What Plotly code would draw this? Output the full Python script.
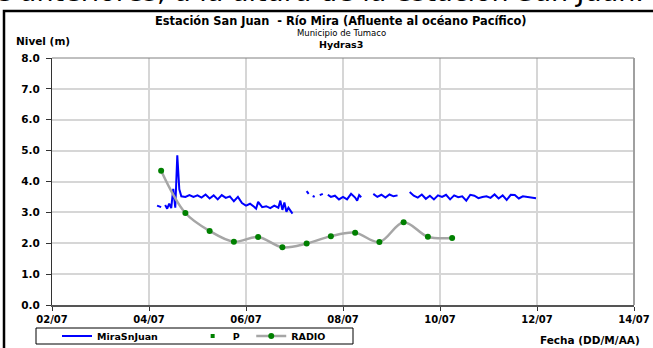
import plotly.graph_objects as go

# ---- data ----
mira_times = [
    "2008-07-04 04:00", "2008-07-04 06:00", "2008-07-04 07:00", "2008-07-04 08:00", "2008-07-04 09:00",
    "2008-07-04 10:00", "2008-07-04 11:00", "2008-07-04 12:00", "2008-07-04 13:00", "2008-07-04 14:00",
    "2008-07-04 15:00", "2008-07-04 16:00", "2008-07-04 18:00", "2008-07-04 20:00", "2008-07-04 22:00",
    "2008-07-05 00:00", "2008-07-05 02:00", "2008-07-05 04:00", "2008-07-05 06:00", "2008-07-05 08:00",
    "2008-07-05 10:00", "2008-07-05 12:00", "2008-07-05 14:00", "2008-07-05 16:00", "2008-07-05 18:00",
    "2008-07-05 20:00", "2008-07-05 22:00", "2008-07-06 00:00", "2008-07-06 02:00", "2008-07-06 04:00",
    "2008-07-06 05:00", "2008-07-06 06:00", "2008-07-06 08:00", "2008-07-06 10:00", "2008-07-06 12:00",
    "2008-07-06 14:00", "2008-07-06 16:00", "2008-07-06 17:00", "2008-07-06 18:00", "2008-07-06 19:00",
    "2008-07-06 20:00", "2008-07-06 21:00", "2008-07-06 22:00", "2008-07-06 23:00", "2008-07-07 00:00",
    "2008-07-07 06:00", "2008-07-07 07:00", "2008-07-07 08:00", "2008-07-07 09:00", "2008-07-07 10:00",
    "2008-07-07 11:00", "2008-07-07 12:30", "2008-07-07 14:00", "2008-07-07 15:00", "2008-07-07 16:30",
    "2008-07-07 18:00", "2008-07-07 20:00", "2008-07-07 22:00", "2008-07-08 00:00", "2008-07-08 02:00",
    "2008-07-08 04:00", "2008-07-08 06:00", "2008-07-08 07:00", "2008-07-08 08:00", "2008-07-08 09:00",
    "2008-07-08 10:00", "2008-07-08 15:00", "2008-07-08 17:00", "2008-07-08 19:00", "2008-07-08 21:00",
    "2008-07-08 23:00", "2008-07-09 01:00", "2008-07-09 03:00", "2008-07-09 04:00", "2008-07-09 09:00",
    "2008-07-09 11:00", "2008-07-09 13:00", "2008-07-09 15:00", "2008-07-09 17:00", "2008-07-09 19:00",
    "2008-07-09 21:00", "2008-07-09 23:00", "2008-07-10 01:00", "2008-07-10 03:00", "2008-07-10 05:00",
    "2008-07-10 07:00", "2008-07-10 09:00", "2008-07-10 11:00", "2008-07-10 13:00", "2008-07-10 15:00",
    "2008-07-10 17:00", "2008-07-10 19:00", "2008-07-10 21:00", "2008-07-10 23:00", "2008-07-11 01:00",
    "2008-07-11 03:00", "2008-07-11 05:00", "2008-07-11 07:00", "2008-07-11 09:00", "2008-07-11 11:00",
    "2008-07-11 13:00", "2008-07-11 15:00", "2008-07-11 17:00", "2008-07-11 19:00", "2008-07-11 21:00",
    "2008-07-11 23:30",
]
mira_values = [
    3.22, 3.17, None, 3.24, 3.12,
    3.28, 3.14, 3.76, 3.15, 4.85,
    3.75, 3.52, 3.50, 3.56, 3.50,
    3.55, 3.48, 3.58, 3.45, 3.55,
    3.42, 3.56, 3.47, 3.52, 3.36,
    3.50, 3.30, 3.22, 3.28, 3.18,
    3.12, 3.34, 3.17, 3.20, 3.14,
    3.22, 3.15, 3.38, 3.08, 3.32,
    3.02, 3.15, 3.06, 2.96, None,
    3.69, 3.60, None, 3.53, 3.50,
    None, 3.56, 3.60, None, 3.57,
    3.50, 3.54, 3.42, 3.50, 3.42,
    3.60, 3.48, 3.38, 3.56, 3.49,
    None, 3.60, 3.50, 3.57, 3.48,
    3.58, 3.52, 3.55, None, 3.66,
    3.54, 3.48, 3.58, 3.44, 3.54,
    3.42, 3.55, 3.50, 3.57, 3.42,
    3.55, 3.49, 3.52, 3.38, 3.57,
    3.54, 3.46, 3.50, 3.52, 3.47,
    3.58, 3.45, 3.55, 3.40, 3.57,
    3.56, 3.45, 3.52, 3.50, 3.47,
    3.46,
]

radio_times = [
    "2008-07-04 06:00", "2008-07-04 18:00", "2008-07-05 06:00", "2008-07-05 18:00",
    "2008-07-06 06:00", "2008-07-06 18:00", "2008-07-07 06:00", "2008-07-07 18:00",
    "2008-07-08 06:00", "2008-07-08 18:00", "2008-07-09 06:00", "2008-07-09 18:00",
    "2008-07-10 06:00",
]
radio_values = [4.35, 2.98, 2.40, 2.05, 2.20, 1.87, 1.99, 2.23, 2.34, 2.04, 2.68, 2.21, 2.17]

# series "P" has no readings in this period (legend entry only)
p_times = ["2008-07-02 00:00"]
p_values = [None]

x_range = ["2008-07-02", "2008-07-14"]
y_ticks = [0, 1, 2, 3, 4, 5, 6, 7, 8]

FONT = "DejaVu Sans, Verdana, sans-serif"
NB = "\u00a0"

fig = go.Figure()
fig.add_trace(go.Scatter(
    x=mira_times, y=mira_values, mode="lines", name="MiraSnJuan" + NB * 9,
    line=dict(color="#0000ff", width=2), connectgaps=False,
))
fig.add_trace(go.Scatter(
    x=p_times, y=p_values, mode="markers", name="P" + NB * 2,
    marker=dict(color="#008000", size=4, symbol="square"),
))
fig.add_trace(go.Scatter(
    x=radio_times, y=radio_values, mode="lines+markers", name="RADIO",
    line=dict(color="#a6a6a6", width=2.5, shape="spline", smoothing=1.0),
    marker=dict(color="#008000", size=6),
))

W, H = 653, 348
L, R, T, B = 52, 634, 58, 305
pw, ph = R - L, B - T

def px(xp):
    return (xp - L) / pw

def py(yp):
    return (B - yp) / ph

fig.update_layout(
    width=W, height=H,
    margin=dict(l=L, r=W - R, t=T, b=H - B, autoexpand=False),
    paper_bgcolor="white", plot_bgcolor="white",
    font=dict(family=FONT, size=9, color="black"),
    showlegend=True,
    legend=dict(
        orientation="h", x=px(57), y=py(336), xanchor="left", yanchor="middle",
        borderwidth=0, bgcolor="rgba(0,0,0,0)",
        font=dict(family=FONT, size=9.5, color="black", weight="bold"),
        itemwidth=30, tracegroupgap=0,
    ),
    xaxis=dict(
        type="date", range=x_range, dtick=2 * 86400000, tick0="2008-07-02",
        tickformat="%d/%m", showgrid=True, gridcolor="#d6d6d6", gridwidth=2,
        showline=True, linecolor="#555555", linewidth=2, mirror=False,
        ticks="outside", ticklen=4, tickcolor="#333333", tickwidth=1,
        tickfont=dict(family=FONT, size=10, color="black", weight="bold"),
        zeroline=False,
    ),
    yaxis=dict(
        range=[0, 8], tickvals=y_ticks, tickformat=".1f",
        showgrid=True, gridcolor="#d6d6d6", gridwidth=2,
        showline=True, linecolor="#333333", linewidth=1,
        ticks="outside", ticklen=5, tickcolor="#333333",
        ticklabelstandoff=4,
        tickfont=dict(family=FONT, size=10.5, color="black", weight="bold"),
        zeroline=False,
    ),
)

# plot border (top/right)
fig.add_shape(type="line", xref="paper", yref="paper", x0=0, x1=1, y0=1, y1=1,
              line=dict(color="#808080", width=1))
fig.add_shape(type="line", xref="paper", yref="paper", x0=1, x1=1, y0=0, y1=1,
              line=dict(color="#a0a0a0", width=2))
# legend frame
fig.add_shape(type="rect", xref="paper", yref="paper", x0=px(36), x1=px(353), y0=py(328), y1=py(344),
              line=dict(color="black", width=1), layer="below")
# outer chart frame
fig.add_shape(type="rect", xref="paper", yref="paper", x0=px(4), x1=px(660), y0=py(11), y1=py(360),
              line=dict(color="black", width=2.5), layer="above")

cx = px(341)
fig.add_annotation(xref="paper", yref="paper", x=cx, y=py(21), text="<b>Estación San Juan  - Río Mira (Afluente al océano Pacífico)</b>",
                   showarrow=False, font=dict(family=FONT, size=11.4), xanchor="center", yanchor="middle")
fig.add_annotation(xref="paper", yref="paper", x=cx, y=py(33), text="Municipio de Tumaco",
                   showarrow=False, font=dict(family=FONT, size=8.5), xanchor="center", yanchor="middle")
fig.add_annotation(xref="paper", yref="paper", x=cx, y=py(44.5), text="<b>Hydras3</b>",
                   showarrow=False, font=dict(family=FONT, size=9.5), xanchor="center", yanchor="middle")
fig.add_annotation(xref="paper", yref="paper", x=px(14), y=py(41), text="<b>Nivel (m)</b>",
                   showarrow=False, font=dict(family=FONT, size=10.5), xanchor="left", yanchor="middle")
fig.add_annotation(xref="paper", yref="paper", x=px(538), y=py(340), text="<b>Fecha (DD/M/AA)</b>",
                   showarrow=False, font=dict(family=FONT, size=10.5), xanchor="left", yanchor="middle")
# document text above the chart (cut off by the top of the picture, as in the reference)
fig.add_annotation(xref="paper", yref="paper", x=px(-41), y=py(9), text="ode anteriores, a la altura de la estación San Juan.",
                   showarrow=False, font=dict(family=FONT, size=27), xanchor="left", yanchor="bottom")

# remove the page's default body margin so the figure fills the window
fig.write_html("out.html", config={"displayModeBar": False},
               post_script="document.body.style.margin='0';")
